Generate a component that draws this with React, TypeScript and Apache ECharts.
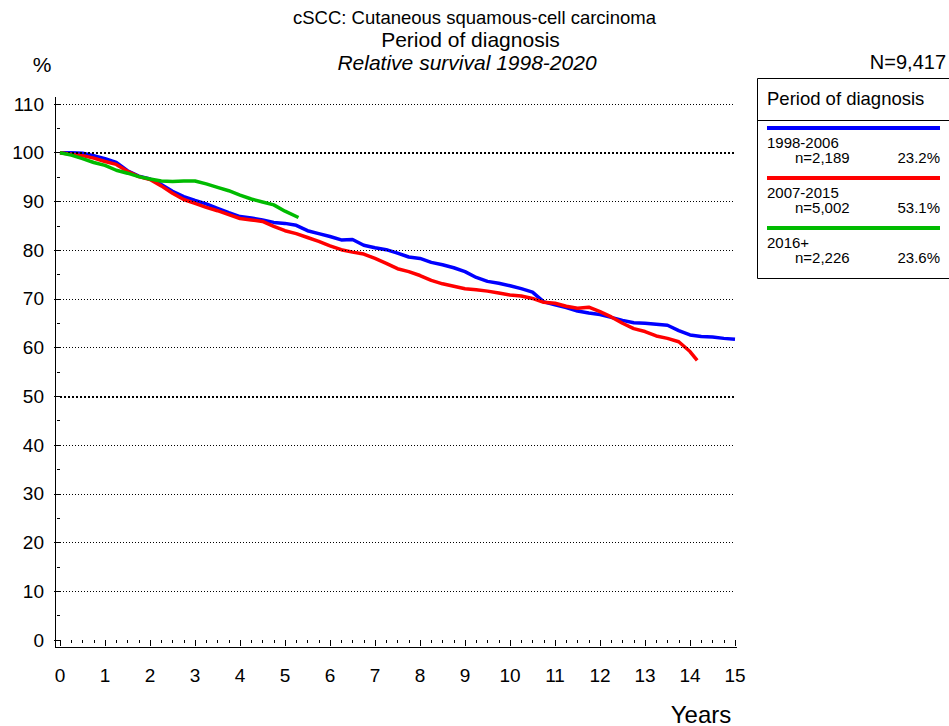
import React, { useEffect, useRef } from "react";
import * as echarts from "echarts";

const FONT = '"Liberation Sans", Arial, Helvetica, sans-serif';

// Relative survival (%) by years since diagnosis
const blue1998_2006: [number, number][] = [
  [0, 100], [0.25, 100], [0.5, 99.9], [0.75, 99.4], [1, 98.8], [1.25, 98.0], [1.5, 96.3], [1.75, 95.2],
  [2, 94.6], [2.25, 93.5], [2.5, 92.1], [2.75, 91.0], [3, 90.2], [3.25, 89.5], [3.5, 88.6], [3.75, 87.7],
  [4, 86.9], [4.25, 86.6], [4.5, 86.2], [4.75, 85.7], [5, 85.5], [5.25, 85.1], [5.5, 84.0], [5.75, 83.4],
  [6, 82.8], [6.25, 82.1], [6.5, 82.2], [6.75, 81.0], [7, 80.5], [7.25, 80.1], [7.5, 79.4], [7.75, 78.6],
  [8, 78.3], [8.25, 77.5], [8.5, 77.0], [8.75, 76.4], [9, 75.6], [9.25, 74.4], [9.5, 73.6], [9.75, 73.2],
  [10, 72.7], [10.25, 72.1], [10.5, 71.4], [10.75, 69.4], [11, 68.8], [11.25, 68.2], [11.5, 67.5], [11.75, 67.1],
  [12, 66.8], [12.25, 66.2], [12.5, 65.6], [12.75, 65.1], [13, 65.0], [13.25, 64.8], [13.5, 64.6], [13.75, 63.5],
  [14, 62.6], [14.25, 62.3], [14.5, 62.2], [14.75, 61.9], [15, 61.7],
];

const red2007_2015: [number, number][] = [
  [0, 100], [0.25, 99.7], [0.5, 99.4], [0.75, 98.9], [1, 98.2], [1.25, 97.6], [1.5, 96.2], [1.75, 95.1],
  [2, 94.5], [2.25, 93.2], [2.5, 91.7], [2.75, 90.4], [3, 89.6], [3.25, 88.8], [3.5, 88.1], [3.75, 87.3],
  [4, 86.5], [4.25, 86.2], [4.5, 85.9], [4.75, 84.9], [5, 84.0], [5.25, 83.4], [5.5, 82.6], [5.75, 81.8],
  [6, 80.9], [6.25, 80.1], [6.5, 79.6], [6.75, 79.2], [7, 78.3], [7.25, 77.3], [7.5, 76.2], [7.75, 75.6],
  [8, 74.8], [8.25, 73.8], [8.5, 73.1], [8.75, 72.6], [9, 72.1], [9.25, 71.9], [9.5, 71.6], [9.75, 71.2],
  [10, 70.8], [10.25, 70.6], [10.5, 70.1], [10.75, 69.3], [11, 69.1], [11.25, 68.5], [11.5, 68.1], [11.75, 68.3],
  [12, 67.4], [12.25, 66.3], [12.5, 65.0], [12.75, 63.9], [13, 63.3], [13.25, 62.4], [13.5, 61.9], [13.75, 61.2],
  [14, 59.2], [14.16, 57.4],
];

const green2016: [number, number][] = [
  [0, 100], [0.25, 99.5], [0.5, 98.8], [0.75, 98.0], [1, 97.4], [1.25, 96.4], [1.5, 95.8], [1.75, 95.1],
  [2, 94.6], [2.25, 94.2], [2.5, 94.1], [2.75, 94.2], [3, 94.2], [3.25, 93.6], [3.5, 92.9], [3.75, 92.2],
  [4, 91.3], [4.25, 90.5], [4.5, 89.9], [4.75, 89.3], [5, 88.0], [5.3, 86.7],
];

const periods = ["1998-2006", "2007-2015", "2016+"];
const counts = ["n=2,189", "n=5,002", "n=2,226"];
const shares = ["23.2%", "53.1%", "23.6%"];
const colors = ["#0000ff", "#ff0000", "#00bb00"];

const thinGrid = [10, 20, 30, 40, 60, 70, 80, 90, 110];
const boldGrid = [50, 100];

const titleLines = [
  "cSCC: Cutaneous squamous-cell carcinoma",
  "Period of diagnosis",
  "Relative survival 1998-2020",
];
const totalN = "N=9,417";
const legendTitle = "Period of diagnosis";

export default function App() {
  const ref = useRef<HTMLDivElement>(null);

  useEffect(() => {
    document.body.style.margin = "0";
    if (!ref.current) return;
    const chart = echarts.init(ref.current, undefined, { renderer: "svg" });

    const txt = (text: string, x: number, y: number, size: number, align: string = "left", extra: any = {}) => ({
      type: "text",
      x,
      y,
      silent: true,
      style: {
        text,
        fontFamily: FONT,
        fontSize: size,
        fill: "#000",
        align,
        verticalAlign: "middle",
        ...extra,
      },
    });

    const legendEls: any[] = [];
    const lineYs = [128, 178, 228];
    periods.forEach((p, i) => {
      const ly = lineYs[i];
      legendEls.push({
        type: "line",
        silent: true,
        shape: { x1: 767, y1: ly, x2: 940, y2: ly },
        style: { stroke: colors[i], lineWidth: 4 },
      });
      legendEls.push(txt(p, 767, ly + 14, 15, "left", { lineHeight: 14 }));
      legendEls.push(txt(counts[i], 795, ly + 29.5, 15, "left", { lineHeight: 14 }));
      legendEls.push(txt(shares[i], 940, ly + 29.5, 15, "right", { lineHeight: 14 }));
    });

    const option: any = {
      animation: false,
      grid: { left: 60, right: 214, top: 104, bottom: 86, containLabel: false },
      xAxis: {
        type: "value",
        min: 0,
        max: 15,
        interval: 1,
        offset: 8,
        axisLine: { show: false },
        axisTick: { show: true, length: 6, lineStyle: { color: "#000", width: 1 } },
        minorTick: { show: true, splitNumber: 4, length: 3, lineStyle: { color: "#000", width: 1 } },
        axisLabel: { margin: 18, fontSize: 19, color: "#000", fontFamily: FONT },
        splitLine: { show: false },
      },
      yAxis: {
        type: "value",
        min: 0,
        max: 110,
        interval: 10,
        offset: 4,
        axisLine: { show: false },
        axisTick: { show: true, length: 6, lineStyle: { color: "#000", width: 1 } },
        minorTick: { show: true, splitNumber: 2, length: 3, lineStyle: { color: "#000", width: 1 } },
        axisLabel: { margin: 12, fontSize: 19, color: "#000", fontFamily: FONT },
        splitLine: { show: false },
      },
      series: [
        {
          type: "line",
          data: [],
          silent: true,
          z: 1,
          markLine: {
            silent: true,
            symbol: "none",
            label: { show: false },
            animation: false,
            data: [
              ...thinGrid.map((v) => ({ yAxis: v, lineStyle: { color: "#000", type: [1, 2], width: 1 } })),
              ...boldGrid.map((v) => ({ yAxis: v, lineStyle: { color: "#000", type: [2, 2], width: 2 } })),
            ],
          },
        },
        ...[blue1998_2006, red2007_2015, green2016].map((d, i) => ({
          type: "line",
          name: periods[i],
          data: d,
          showSymbol: false,
          symbol: "none",
          z: 3 + i,
          lineStyle: { color: colors[i], width: 3.5 },
          itemStyle: { color: colors[i] },
        })),
      ],
      graphic: [
        { type: "line", silent: true, shape: { x1: 55.5, y1: 97, x2: 55.5, y2: 648 }, style: { stroke: "#000", lineWidth: 1 } },
        { type: "line", silent: true, shape: { x1: 55, y1: 647.5, x2: 737, y2: 647.5 }, style: { stroke: "#000", lineWidth: 1 } },
        txt(titleLines[0], 474.5, 17, 18.5, "center"),
        txt(titleLines[1], 470.5, 39, 21, "center"),
        txt(titleLines[2], 467, 62, 21, "center", { fontStyle: "italic" }),
        txt("%", 42, 64, 21, "center"),
        txt("Years", 701, 714, 24, "center"),
        txt(totalN, 946, 62, 20, "right"),
        { type: "rect", silent: true, shape: { x: 757.5, y: 78.5, width: 210, height: 200 }, style: { fill: "none", stroke: "#000", lineWidth: 1 } },
        { type: "line", silent: true, shape: { x1: 757, y1: 120.5, x2: 949, y2: 120.5 }, style: { stroke: "#000", lineWidth: 1 } },
        txt(legendTitle, 767, 98, 18.5),
        ...legendEls,
      ],
    };

    chart.setOption(option);
    return () => chart.dispose();
  }, []);

  return <div ref={ref} style={{ width: 949, height: 726 }} />;
}
